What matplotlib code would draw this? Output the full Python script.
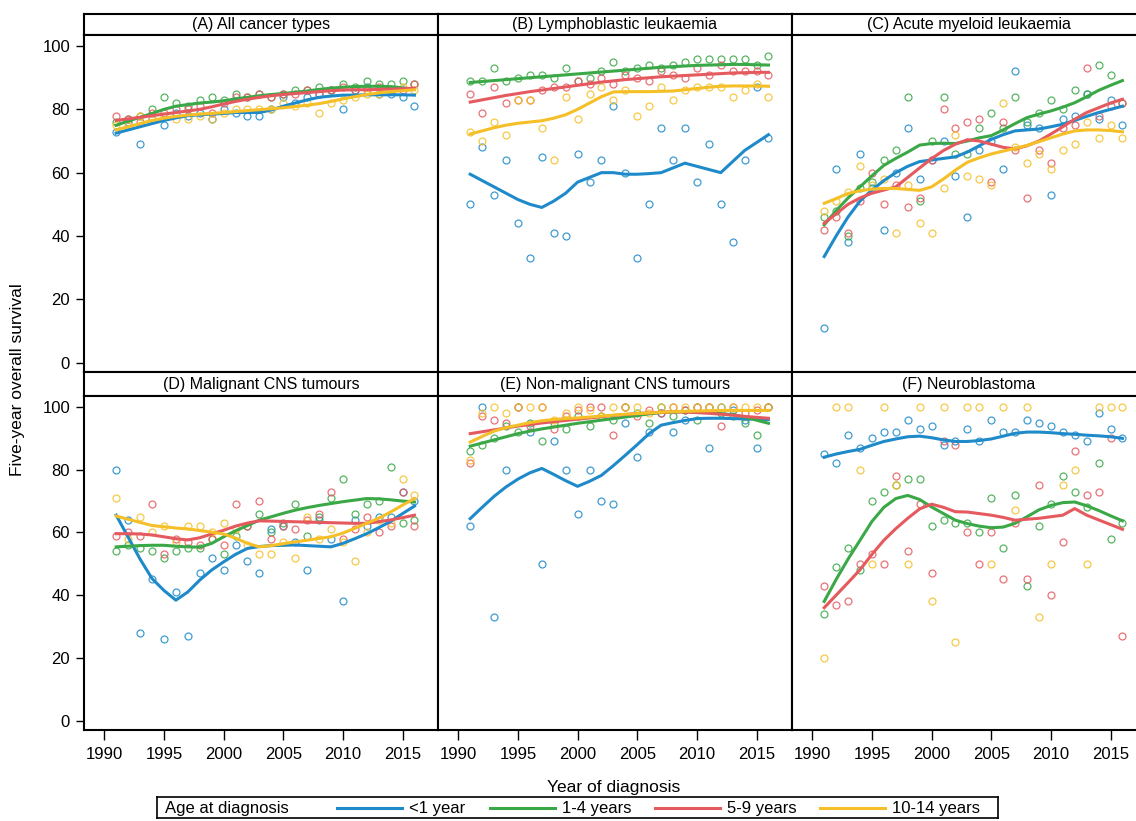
import matplotlib
matplotlib.use("Agg")
import matplotlib.pyplot as plt
from matplotlib.lines import Line2D

plt.rcParams['font.family'] = ['Liberation Sans Narrow', 'Liberation Sans', 'DejaVu Sans']

# =====================================================
# DATA
# =====================================================

years = list(range(1991, 2017))
groups = ["<1 year", "1-4 years", "5-9 years", "10-14 years"]
colours = ["#1f8ac9", "#3aa846", "#e55a5f", "#f5bf27"]
titles = ["(A) All cancer types", "(B) Lymphoblastic leukaemia", "(C) Acute myeloid leukaemia",
          "(D) Malignant CNS tumours", "(E) Non-malignant CNS tumours", "(F) Neuroblastoma"]

# (A) All cancer types
a_pts_lt1 = [73, 76, 69, 77, 75, 79, 78, 79, 77, 80, 79, 78, 78, 80, 84, 82, 84, 85, 86, 80, 86, 87, 85, 85, 84, 81]
a_pts_1_4 = [76, 77, 78, 80, 84, 82, 81, 83, 84, 83, 85, 84, 85, 84, 85, 86, 86, 87, 86, 88, 87, 89, 88, 88, 89, 88]
a_pts_5_9 = [78, 77, 76, 79, 79, 80, 80, 81, 79, 82, 84, 84, 85, 84, 85, 85, 86, 85, 86, 87, 86, 86, 87, 86, 86, 88]
a_pts_10_14 = [75, 75, 78, 77, 78, 77, 77, 78, 77, 79, 80, 80, 80, 80, 82, 81, 82, 79, 82, 83, 84, 85, 85, 86, 87, 86]
a_fit_lt1 = [72.5, 73.5, 74.5, 75.5, 76.5, 77.3, 78, 78.3, 78.5, 78.7, 79, 79, 79, 79.8, 81, 82, 83, 83.8, 84.2, 84.5, 84.5, 84.6, 84.6, 84.6, 84.6, 84.5]
a_fit_1_4 = [75, 76.3, 77.5, 78.7, 80, 81, 81.5, 82, 82.3, 82.7, 83.3, 83.8, 84.3, 84.7, 85, 85.4, 85.8, 86.3, 86.7, 87, 87.2, 87.3, 87.3, 87.2, 86.8, 86.3]
a_fit_5_9 = [76.5, 77, 77.5, 78, 78.5, 79, 79.5, 80, 80.8, 81.7, 82.5, 83.2, 83.8, 84.3, 84.7, 85, 85.3, 85.6, 85.9, 86.1, 86.2, 86.2, 86.3, 86.4, 86.5, 86.7]
a_fit_10_14 = [73.5, 74.5, 75.5, 76.5, 77.2, 77.8, 78.2, 78.5, 78.7, 79, 79.3, 79.6, 79.9, 80.2, 80.5, 80.9, 81.3, 81.8, 82.5, 83.3, 84, 84.7, 85.2, 85.6, 85.9, 86.2]

# (B) Lymphoblastic leukaemia
b_pts_lt1 = [50, 68, 53, 64, 44, 33, 65, 41, 40, 66, 57, 64, 81, 60, 33, 50, 74, 64, 74, 57, 69, 50, 38, 64, 87, 71]
b_pts_1_4 = [89, 89, 93, 89, 90, 91, 91, 90, 93, 89, 90, 92, 95, 92, 93, 94, 93, 94, 95, 96, 96, 96, 96, 96, 94, 97]
b_pts_5_9 = [85, 79, 87, 82, 83, 83, 86, 87, 87, 89, 88, 90, 88, 91, 90, 89, 92, 91, 90, 93, 91, 94, 92, 92, 92, 91]
b_pts_10_14 = [73, 70, 76, 72, 83, 83, 74, 64, 84, 77, 85, 87, 83, 86, 78, 81, 87, 83, 86, 87, 87, 87, 84, 86, 88, 84]
b_fit_lt1 = [59.5, 57.5, 55.5, 53.5, 51.5, 50, 49, 51, 53.5, 57, 58.5, 60, 60, 59.5, 59.5, 59.7, 60, 61.5, 63, 62, 61, 60, 63.5, 67, 69.5, 72]
b_fit_1_4 = [88.5, 88.8, 89.1, 89.4, 89.7, 90, 90.3, 90.6, 90.9, 91.2, 91.5, 91.8, 92.1, 92.4, 92.7, 93, 93.3, 93.5, 93.7, 93.9, 94, 94.1, 94.2, 94.2, 94.1, 94]
b_fit_5_9 = [82.3, 83, 83.7, 84.4, 85, 85.6, 86.1, 86.6, 87.1, 87.6, 88.1, 88.6, 89, 89.4, 89.7, 90, 90.3, 90.5, 90.7, 90.9, 91.1, 91.3, 91.5, 91.6, 91.7, 91.7]
b_fit_10_14 = [72.2, 73.2, 74.2, 75, 75.6, 76, 76.4, 77.2, 78.3, 80, 82, 84, 85.5, 85.6, 85.6, 85.6, 85.7, 85.8, 86.2, 86.6, 87, 87.3, 87.4, 87.4, 87.4, 87.3]

# (C) Acute myeloid leukaemia
c_pts_lt1 = [11, 61, 38, 66, 55, 42, 60, 74, 58, 64, 70, 59, 46, 67, 70, 61, 92, 75, 74, 53, 77, 78, 85, 77, 83, 75]
c_pts_1_4 = [46, 48, 40, 55, 57, 64, 67, 84, 51, 70, 84, 66, 66, 74, 79, 74, 84, 76, 79, 83, 80, 86, 85, 94, 91, 82]
c_pts_5_9 = [42, 46, 41, 51, 60, 50, 56, 49, 52, 64, 80, 74, 76, 77, 57, 76, 67, 52, 67, 63, 74, 75, 93, 78, 81, 82]
c_pts_10_14 = [48, 51, 54, 62, 56, 58, 41, 56, 44, 41, 55, 72, 59, 58, 56, 82, 68, 63, 66, 61, 67, 69, 76, 71, 75, 71]
c_fit_lt1 = [33.5, 40, 46, 51, 54.5, 57.5, 60, 62, 63.5, 64, 64.5, 65, 66.5, 68.5, 70.5, 72, 73.2, 73.5, 73.8, 74.5, 75.3, 76.5, 77.8, 79, 80, 81]
c_fit_1_4 = [43.5, 48, 52, 55.5, 59, 62.3, 64.5, 66.5, 68.7, 69.2, 69.3, 69.2, 70, 71, 71.7, 73.5, 75.5, 77.4, 78.5, 79.5, 80.7, 82.1, 84, 86, 87.6, 89.1]
c_fit_5_9 = [44, 47, 50, 52, 53.5, 54.5, 55.5, 58.5, 61.5, 64.4, 67, 69, 70.4, 70, 69, 68, 67.5, 68.5, 70, 72.2, 74.5, 76.9, 79, 80.5, 82, 83.2]
c_fit_10_14 = [50.3, 51.8, 53.4, 54.3, 54.8, 55, 55, 54.7, 54.4, 55.5, 58, 60.8, 63.3, 64.7, 65.9, 66.8, 67.7, 68.6, 69.8, 71, 72.2, 73.2, 73.5, 73.5, 73.3, 72.9]

# (D) Malignant CNS tumours
d_pts_lt1 = [80, 64, 28, 45, 26, 41, 27, 47, 52, 48, 56, 51, 47, 61, 62, 57, 48, 64, 58, 38, 64, 62, 65, 65, 73, 70]
d_pts_1_4 = [54, 56, 55, 54, 52, 54, 55, 55, 58, 53, 59, 62, 66, 60, 63, 69, 59, 65, 71, 77, 66, 69, 70, 81, 63, 64]
d_pts_5_9 = [59, 60, 59, 69, 53, 58, 57, 56, 58, 56, 69, 62, 70, 58, 62, 61, 64, 66, 73, 58, 61, 65, 60, 62, 73, 62]
d_pts_10_14 = [71, 58, 65, 60, 62, 57, 62, 62, 60, 63, 61, 56, 53, 53, 57, 52, 65, 58, 61, 57, 51, 60, 64, 63, 77, 72]
d_fit_lt1 = [65.5, 58.5, 51.5, 45.3, 41.5, 38.4, 41, 44.8, 48, 50.6, 53, 54.9, 55.5, 55.8, 55.9, 56, 55.8, 55.6, 55.4, 56.5, 58, 59.6, 61.5, 63.5, 66, 68.4]
d_fit_1_4 = [55.4, 55.6, 55.8, 55.9, 55.9, 55.6, 55.4, 55.3, 56.5, 58.6, 60.5, 62.2, 63.9, 65, 66.1, 67.1, 67.9, 68.6, 69.2, 69.8, 70.3, 70.8, 70.7, 70.4, 70, 69.7]
d_fit_5_9 = [59.6, 59.6, 59.5, 59.2, 58.6, 58, 57.6, 58.3, 59.5, 60.7, 62, 63, 63.7, 63.6, 63.5, 63.4, 63.3, 63.2, 63.1, 63, 62.9, 62.9, 63.4, 64, 64.7, 65.5]
d_fit_10_14 = [65.2, 64.2, 63.2, 62.2, 61.8, 61.4, 61.1, 60.6, 60.1, 59.5, 58.2, 56.5, 55.4, 55.8, 56.4, 57, 57.5, 58.1, 58.6, 59.8, 61.3, 62.9, 64.5, 66.5, 68.7, 70.8]

# (E) Non-malignant CNS tumours
e_pts_lt1 = [62, 100, 33, 80, 100, 92, 50, 89, 80, 66, 80, 70, 69, 95, 84, 92, 98, 92, 96, 100, 87, 100, 99, 96, 87, 100]
e_pts_1_4 = [86, 88, 90, 94, 92, 95, 89, 95, 93, 97, 94, 97, 96, 100, 98, 95, 100, 97, 99, 96, 100, 98, 97, 95, 91, 100]
e_pts_5_9 = [82, 97, 96, 95, 100, 94, 100, 93, 97, 99, 100, 100, 91, 100, 97, 99, 98, 100, 99, 100, 100, 94, 100, 98, 99, 100]
e_pts_10_14 = [83, 98, 100, 98, 100, 100, 100, 96, 98, 100, 99, 97, 100, 100, 100, 98, 100, 100, 100, 100, 100, 100, 100, 100, 100, 100]
e_fit_lt1 = [64.4, 68, 71.5, 74.5, 77, 79, 80.4, 78.5, 76.5, 74.7, 76.3, 78.2, 81.3, 84.6, 88, 91.5, 94.2, 95, 95.7, 96.3, 96.4, 96.4, 96.3, 96.2, 96.1, 96]
e_fit_1_4 = [87.5, 88.5, 89.5, 90.5, 91.5, 92.3, 93, 93.6, 94.2, 94.8, 95.3, 95.8, 96.3, 96.8, 97.3, 97.8, 98.2, 98.4, 98.5, 98.4, 98.2, 97.9, 97.5, 96.8, 95.8, 94.8]
e_fit_5_9 = [91.5, 92.1, 92.7, 93.3, 93.9, 94.4, 94.9, 95.3, 95.7, 96.1, 96.5, 96.9, 97.3, 97.6, 97.9, 98.1, 98.3, 98.4, 98.4, 98.2, 98, 97.7, 97.4, 97, 96.7, 96.4]
e_fit_10_14 = [88.8, 90.6, 92.3, 93.4, 94.2, 95, 95.6, 96, 96.3, 96.5, 96.8, 97.1, 97.4, 97.7, 97.9, 98.1, 98.3, 98.5, 98.6, 98.7, 98.8, 98.9, 98.9, 98.9, 98.9, 98.9]

# (F) Neuroblastoma (no fitted line for 10-14 years)
f_pts_lt1 = [85, 82, 91, 87, 90, 92, 92, 96, 93, 94, 88, 89, 93, 89, 96, 92, 92, 96, 95, 94, 92, 91, 89, 98, 93, 90]
f_pts_1_4 = [34, 49, 55, 48, 70, 73, 75, 77, 77, 62, 64, 63, 63, 60, 71, 55, 72, 43, 62, 69, 78, 73, 68, 82, 58, 63]
f_pts_5_9 = [43, 37, 38, 50, 53, 50, 78, 54, 69, 47, 89, 88, 60, 50, 60, 45, 63, 45, 75, 40, 57, 86, 72, 73, 90, 27]
f_pts_10_14 = [20, 100, 100, 80, 50, 100, 75, 50, 100, 38, 100, 25, 100, 100, 50, 100, 67, 100, 33, 50, 75, 80, 50, 100, 100, 100]
f_fit_lt1 = [84, 85, 85.8, 86.5, 87.8, 89, 89.8, 90.5, 90.7, 90.2, 89.5, 89, 89, 89.3, 89.8, 90.7, 91.6, 92, 92, 91.8, 91.5, 91.3, 91, 90.8, 90.5, 90]
f_fit_1_4 = [38, 45, 51.5, 57.5, 63.5, 68, 70.8, 71.8, 70.5, 68.1, 66, 63.9, 62.8, 62, 61.5, 61.7, 62.9, 65, 67.2, 68.6, 69.5, 69.7, 68.5, 67, 65.3, 63.7]
f_fit_5_9 = [36, 40, 44, 48.1, 53, 57.5, 61.2, 64.5, 67.5, 69, 68, 66.6, 66.5, 66, 65.5, 64.8, 63.9, 64.2, 64.5, 65, 65.5, 67.6, 65.5, 64, 62.5, 61]

panels = [
    ([a_pts_lt1, a_pts_1_4, a_pts_5_9, a_pts_10_14], [a_fit_lt1, a_fit_1_4, a_fit_5_9, a_fit_10_14]),
    ([b_pts_lt1, b_pts_1_4, b_pts_5_9, b_pts_10_14], [b_fit_lt1, b_fit_1_4, b_fit_5_9, b_fit_10_14]),
    ([c_pts_lt1, c_pts_1_4, c_pts_5_9, c_pts_10_14], [c_fit_lt1, c_fit_1_4, c_fit_5_9, c_fit_10_14]),
    ([d_pts_lt1, d_pts_1_4, d_pts_5_9, d_pts_10_14], [d_fit_lt1, d_fit_1_4, d_fit_5_9, d_fit_10_14]),
    ([e_pts_lt1, e_pts_1_4, e_pts_5_9, e_pts_10_14], [e_fit_lt1, e_fit_1_4, e_fit_5_9, e_fit_10_14]),
    ([f_pts_lt1, f_pts_1_4, f_pts_5_9, f_pts_10_14], [f_fit_lt1, f_fit_1_4, f_fit_5_9, None]),
]

# =====================================================
# LAYOUT (pixels)
# =====================================================

W, H = 1136, 821
fig = plt.figure(figsize=(W / 100, H / 100), dpi=100)


def rect(x0, y0, x1, y1):
    return [x0 / W, 1 - y1 / H, (x1 - x0) / W, (y1 - y0) / H]


cols = [(84, 438), (438, 792), (792, 1146)]
rows = [(14, 35, 372), (372, 396, 730)]   # strip top, plot top, plot bottom

for i, (pts, fits) in enumerate(panels):
    r, c = divmod(i, 3)
    x0, x1 = cols[c]
    s0, p0, p1 = rows[r]

    # bandeau titre
    st = fig.add_axes(rect(x0, s0, x1, p0))
    st.set_xticks([])
    st.set_yticks([])
    for sp in st.spines.values():
        sp.set_linewidth(1.5)
    st.text(0.5, 0.48, titles[i], ha="center", va="center", fontsize=11.5, transform=st.transAxes)

    ax = fig.add_axes(rect(x0, p0, x1, p1))
    for k in range(4):
        ax.plot(years, pts[k], linestyle="none", marker="o", markersize=5,
                markerfacecolor="none", markeredgecolor=colours[k], markeredgewidth=0.9,
                alpha=0.85, zorder=2)
    for k in range(4):
        if fits[k] is not None:
            ax.plot(years, fits[k], color=colours[k], linewidth=2.2, zorder=3)

    ax.set_xlim(1988.3, 1988.3 + (x1 - x0) / 11.93)
    ax.set_ylim(-3, 103.5)
    for sp in ax.spines.values():
        sp.set_linewidth(1.5)

    if r == 1:
        ax.set_xticks([1990, 1995, 2000, 2005, 2010, 2015])
        ax.tick_params(axis="x", direction="out", length=7, width=1, pad=5, labelsize=12)
    else:
        ax.set_xticks([])
    if c == 0:
        ax.set_yticks([0, 20, 40, 60, 80, 100])
        ax.tick_params(axis="y", direction="out", length=6, width=1, pad=4, labelsize=12)
    else:
        ax.set_yticks([])

fig.text(18 / W, 1 - 380 / H, "Five-year overall survival", rotation=90,
         ha="center", va="center", fontsize=12.5)
fig.text(614 / W, 1 - 787 / H, "Year of diagnosis", ha="center", va="center", fontsize=12.5)

# =====================================================
# LÉGENDE
# =====================================================

lg = fig.add_axes(rect(157, 797, 998, 818))
lg.set_xlim(157, 998)
lg.set_ylim(0, 1)
lg.set_xticks([])
lg.set_yticks([])
for sp in lg.spines.values():
    sp.set_linewidth(1.2)
lg.text(165, 0.45, "Age at diagnosis", ha="left", va="center", fontsize=12)
line_starts = [337, 490, 655, 820]
for k in range(4):
    lg.add_line(Line2D([line_starts[k], line_starts[k] + 65], [0.5, 0.5], color=colours[k], linewidth=2.2))
    lg.text(line_starts[k] + 72, 0.45, groups[k], ha="left", va="center", fontsize=12)

plt.savefig("out.png", dpi=100)
